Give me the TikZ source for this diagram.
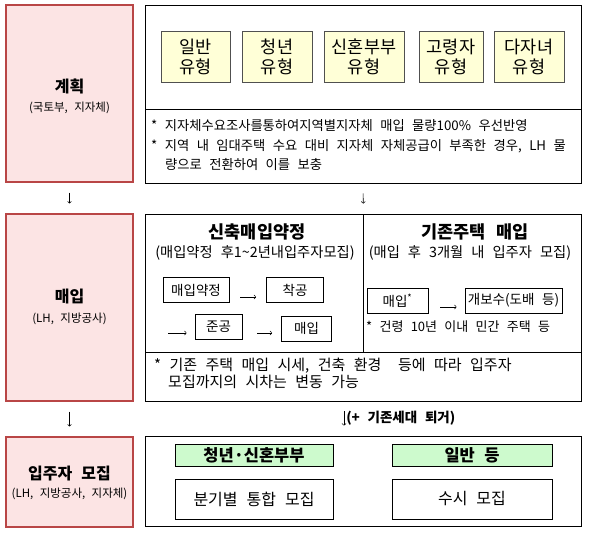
\documentclass[tikz,border=0pt]{standalone}
\usepackage{fontspec}
\setmainfont[WordSpace=2.5]{Noto Sans CJK KR}
\definecolor{stagefill}{RGB}{252,228,228}
\definecolor{stageline}{RGB}{185,70,70}
\definecolor{typefill}{RGB}{255,255,215}
\definecolor{typeline}{RGB}{80,80,80}
\definecolor{grpfill}{RGB}{205,250,205}

\begin{document}
\begin{tikzpicture}[x=1pt,y=-1pt,
  stage/.style={draw=stageline,fill=stagefill,line width=1.2pt,minimum width=127pt,inner sep=0pt},
  panel/.style={draw,line width=0.8pt,minimum width=436pt,inner sep=0pt},
  half/.style={draw,line width=0.8pt,minimum width=218pt,minimum height=138pt,inner sep=0pt},
  typebox/.style={draw=typeline,fill=typefill,line width=0.9pt,minimum height=51pt,inner sep=0pt,align=center,font=\fontsize{17.5}{20}\selectfont},
  flowbox/.style={draw,line width=0.8pt,minimum height=25pt,inner sep=0pt,font=\fontsize{13.5}{16}\selectfont},
  grpbox/.style={draw,fill=grpfill,line width=0.8pt,minimum width=158pt,minimum height=22pt,inner sep=0pt,font=\bfseries\fontsize{16.5}{18}\selectfont},
  recbox/.style={draw,line width=0.8pt,minimum width=158pt,minimum height=40pt,inner sep=0pt,font=\fontsize{16}{18}\selectfont},
  ttl/.style={font=\bfseries\fontsize{16}{18}\selectfont},
  head/.style={font=\bfseries\fontsize{17.5}{19}\selectfont},
  sub/.style={font=\fontsize{11.5}{14}\selectfont},
  hsub/.style={font=\fontsize{14.3}{16}\selectfont},
  note/.style={font=\fontsize{13.3}{19.5}\selectfont,align=left,anchor=west,inner sep=0pt},
  arr/.style={->,>=to,line width=0.6pt,shorten <=10pt,shorten >=10pt},
  fa/.style={->,>=to,line width=0.6pt}]
\useasboundingbox (0,0) rectangle (597,537);

\node[stage,minimum height=177pt] (plan) at (69.5,93.5) {};
\node[ttl] (planT) at (69.5,86) {계획};
\node[sub] (planS) at (69.5,108) {(국토부, 지자체)};
\node[panel,minimum height=104pt] (planBox) at (363,57) {};
\node[panel,minimum height=74pt] (planNote) at (363,146) {};
\foreach \x/\w/\t [count=\i] in {195.5/69/일반,277/70/청년,364/80/신혼부부,451/64/고령자,529/70/다자녀}
  \node[typebox,minimum width=\w pt] (type\i) at (\x,56.5) {\t\\유형};
\node[note] (planTxt) at (151,145.5) {* 지자체수요조사를통하여지역별지자체 매입 물량100\% 우선반영\\* 지역 내 임대주택 수요 대비 지자체 자체공급이 부족한 경우, LH 물\\\hspace*{14pt}량으로 전환하여 이를 보충};

\node[stage,minimum height=187pt] (buy) at (69.5,307.5) {};
\node[ttl] (buyT) at (69.5,297) {매입};
\node[sub] (buyS) at (69.5,319) {(LH, 지방공사)};
\node[half] (buyL) at (254,283) {};
\node[half] (buyR) at (472,283) {};
\node[panel,minimum height=49pt] (buyNote) at (363,376.5) {};
\node[head] (newT) at (257,232) {신축매입약정};
\node[hsub] (newS) at (255,253) {(매입약정 후1\textasciitilde2년내입주자모집)};
\node[flowbox,minimum width=66pt] (agree) at (196,290) {매입약정};
\node[flowbox,minimum width=57pt] (start) at (295,290) {착공};
\node[flowbox,minimum width=47pt] (done) at (218.5,327) {준공};
\node[flowbox,minimum width=50pt] (buy1) at (306.5,328.5) {매입};
\coordinate (pre) at (168,333);
\draw[fa,shorten <=11pt,shorten >=10pt] ([yshift=-7pt]agree.east) -- ([yshift=-7pt]start.west);
\draw[fa,shorten >=8pt] (pre) -- ([yshift=-6pt]done.west);
\draw[fa,shorten <=15pt,shorten >=9pt] ([yshift=-6pt]done.east) -- ([yshift=-6pt]done.east -| buy1.west);
\node[head] (oldT) at (475,232) {기존주택 매입};
\node[hsub] (oldS) at (470,253) {(매입 후 3개월 내 입주자 모집)};
\node[flowbox,minimum width=61pt] (buy2) at (397.5,300.5) {매입\textsuperscript{*}};
\node[flowbox,minimum width=97pt] (repair) at (513.5,300.5) {개보수(도배 등)};
\draw[fa,shorten <=12pt,shorten >=8pt] ([yshift=-6.5pt]buy2.east) -- ([yshift=-6.5pt]repair.west);
\node[anchor=west,inner sep=0pt,font=\fontsize{13}{15}\selectfont] (oldN) at (366,327) {* 건령 10년 이내 민간 주택 등};
\node[note,font=\fontsize{15}{17}\selectfont] (buyTxt) at (154,373.5) {* 기존 주택 매입 시세, 건축 환경~ 등에 따라 입주자\\\hspace*{14pt}모집까지의 시차는 변동 가능};

\node[stage,minimum height=90pt] (rec) at (69.5,482) {};
\node[ttl] (recT) at (69.5,474) {입주자 모집};
\node[sub] (recS) at (69.5,494) {(LH, 지방공사, 지자체)};
\node[panel,minimum height=90pt] (recR) at (363,481) {};
\node[grpbox] (young) at (254,455) {청년·신혼부부};
\node[grpbox,minimum width=160pt] (gen) at (472,455) {일반 등};
\node[recbox] (quarter) at (254,499) {분기별 통합 모집};
\node[recbox,minimum width=160pt] (any) at (472,499) {수시 모집};

\draw[arr] (plan.south) -- (buy.north);
\draw[arr] (planNote.south) -- (buyL.north east);
\draw[arr] (buy.south) -- (rec.north);
\coordinate (leave) at (344,401);
\draw[arr] (leave) -- (leave |- recR.north) node[midway,right,inner sep=2pt,font=\bfseries\fontsize{13.5}{15}\selectfont] (leaveT) {(+ 기존세대 퇴거)};
\end{tikzpicture}
\end{document}
